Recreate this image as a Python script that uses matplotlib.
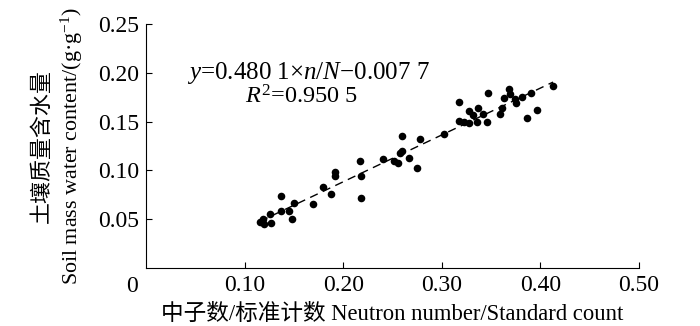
import matplotlib
matplotlib.use("Agg")
import matplotlib.pyplot as plt
import numpy as np

plt.rcParams['font.family'] = ['Liberation Serif', 'Noto Sans CJK SC']
plt.rcParams['mathtext.fontset'] = 'custom'
plt.rcParams['mathtext.rm'] = 'Liberation Serif'
plt.rcParams['mathtext.it'] = 'Liberation Serif:italic'
plt.rcParams['axes.unicode_minus'] = True

# 中子数/标准计数
ratio = [0.1156, 0.1197, 0.1187, 0.1268, 0.1258, 0.1369, 0.1369, 0.1450, 0.1481, 0.1501,
         0.1694, 0.1795, 0.1876, 0.1917, 0.1917, 0.2170, 0.2181, 0.2181, 0.2404, 0.2515,
         0.2556, 0.2596, 0.2576, 0.2596, 0.2667, 0.2748, 0.2779, 0.3022, 0.3174, 0.3174,
         0.3225, 0.3276, 0.3276, 0.3316, 0.3367, 0.3357, 0.3418, 0.3458, 0.3469, 0.3590,
         0.3611, 0.3631, 0.3682, 0.3692, 0.3742, 0.3753, 0.3813, 0.3905, 0.3864, 0.3966,
         0.4128]
# 土壤质量含水量
water = [0.0471, 0.0451, 0.0502, 0.0461, 0.0553, 0.0738, 0.0584, 0.0584, 0.0502, 0.0666,
         0.0656, 0.0830, 0.0758, 0.0984, 0.0943, 0.1096, 0.0943, 0.0717, 0.1117, 0.1096,
         0.1076, 0.1352, 0.1178, 0.1199, 0.1127, 0.1025, 0.1322, 0.1373, 0.1701, 0.1506,
         0.1496, 0.1486, 0.1609, 0.1568, 0.1639, 0.1496, 0.1578, 0.1496, 0.1793, 0.1578,
         0.1639, 0.1742, 0.1834, 0.1783, 0.1732, 0.1691, 0.1752, 0.1793, 0.1537, 0.1619,
         0.1865]
slope = 0.4801
intercept = -0.0077

xticks = [0.10, 0.20, 0.30, 0.40, 0.50]
yticks = [0.05, 0.10, 0.15, 0.20, 0.25]

fig = plt.figure(figsize=(7, 3.26), dpi=100)
ax = fig.add_axes([0.2086, 0.178, 0.7043, 0.7484])

ax.scatter(ratio, water, s=30, color='black', zorder=3, linewidths=0)
xl = np.array([min(ratio), max(ratio)])
ax.plot(xl, slope * xl + intercept, color='black', lw=1.0, ls=(0, (6, 4)))

ax.set_xlim(0, 0.5)
ax.set_ylim(0, 0.25)
ax.set_xticks(xticks)
ax.set_xticklabels(["%.2f" % v for v in xticks])
ax.set_yticks(yticks)
ax.set_yticklabels(["%.2f" % v for v in yticks])
ax.tick_params(direction='in', length=4, width=0.8, labelsize=17, pad=5)
for s in ['top', 'right']:
    ax.spines[s].set_visible(False)
for s in ['left', 'bottom']:
    ax.spines[s].set_linewidth(0.8)

ax.annotate("0", xy=(0, 0), xytext=(-10, -6), textcoords='offset points',
            ha='center', va='top', fontsize=17)

ax.set_xlabel("中子数/标准计数 Neutron number/Standard count", fontsize=16.3, labelpad=6)
ax.set_ylabel("土壤质量含水量\nSoil mass water content/(g·g$^{-1}$)", fontsize=15.8,
              labelpad=9, linespacing=1.35)

ax.text(0.0416, 0.200, "$y$=0.480 1×$n$/$N$−0.007 7", fontsize=18, ha='left', va='center')
ax.text(0.100, 0.175, "$R^{2}$=0.950 5", fontsize=17.5, ha='left', va='center')

fig.savefig("out.png", dpi=100)
